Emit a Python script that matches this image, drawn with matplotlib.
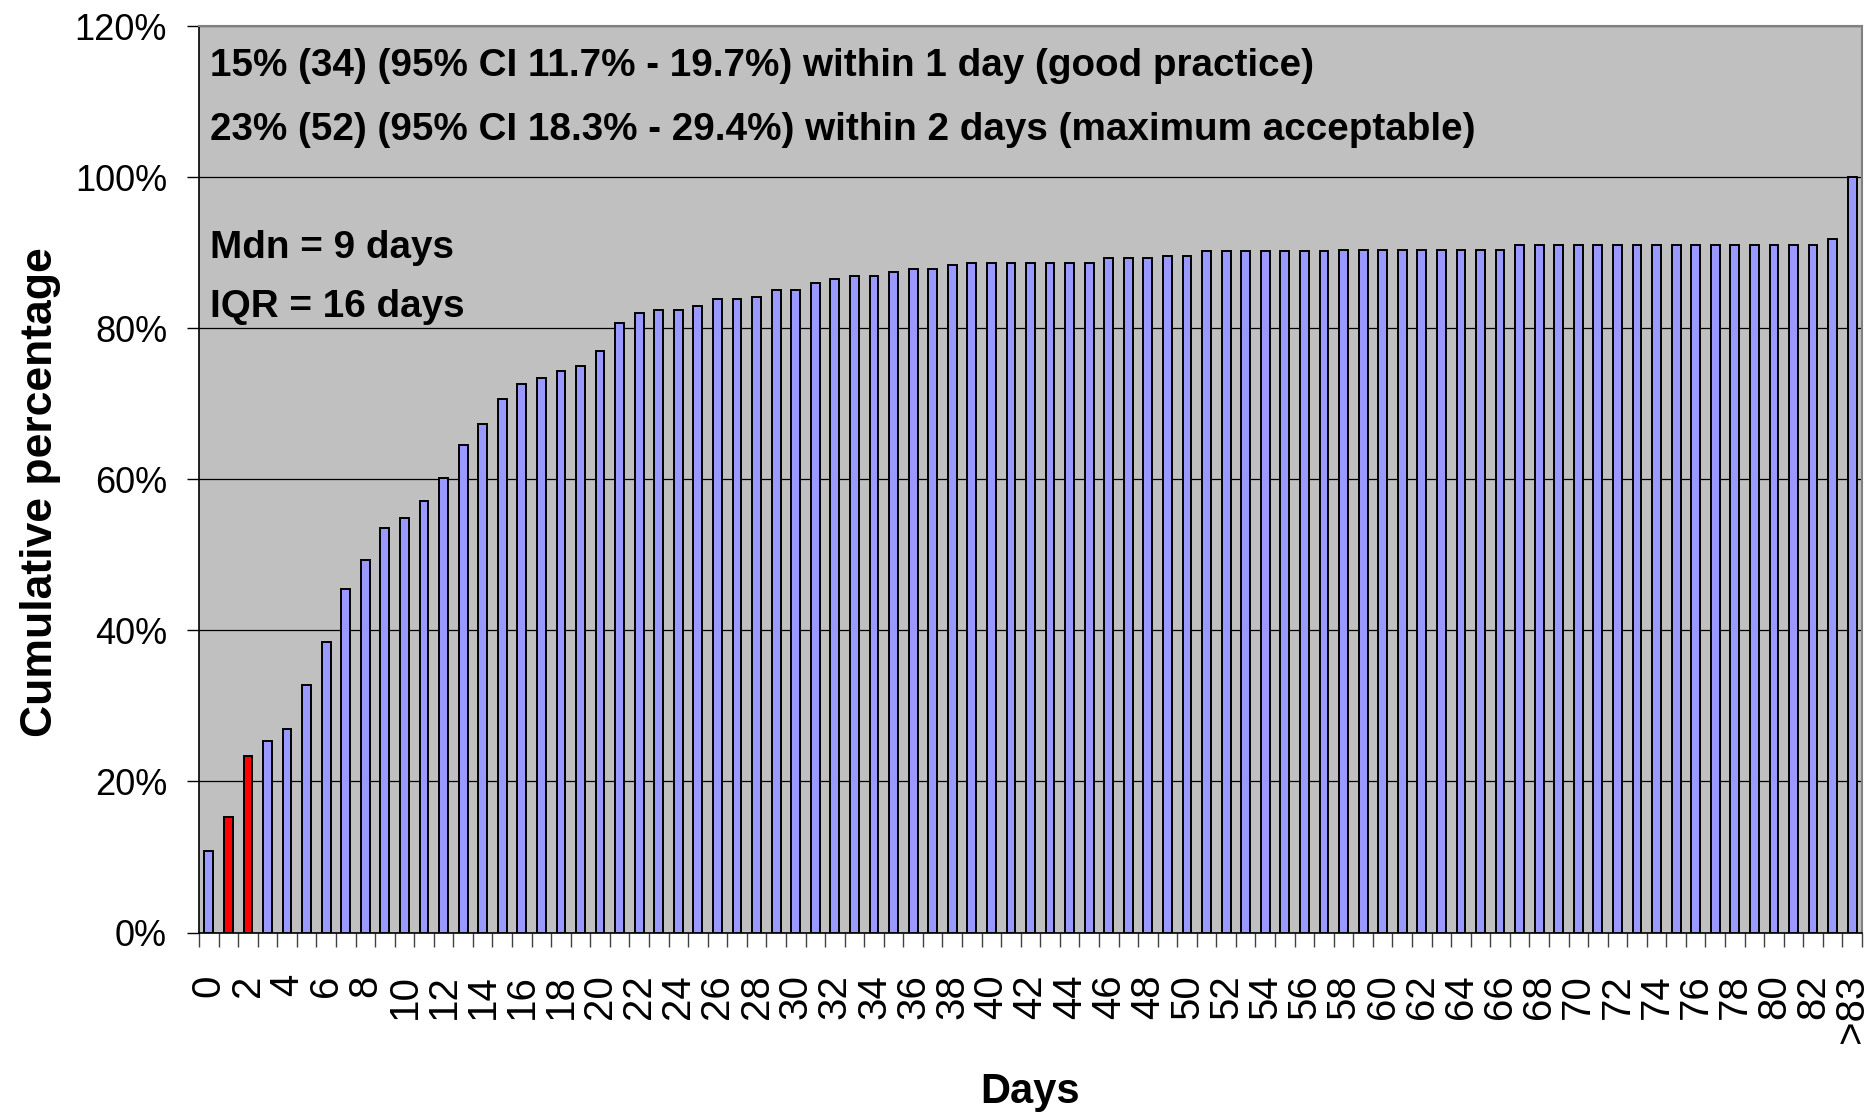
import numpy as np
import matplotlib
matplotlib.use('Agg')
import matplotlib.pyplot as plt
from matplotlib import font_manager

# cumulative percentage per day
days = [str(d) for d in range(84)] + ['>83']
cum_pct = [10.8, 15.3, 23.4, 25.3, 27.0, 32.8, 38.5, 45.5, 49.3, 53.6,
           54.9, 57.2, 60.2, 64.5, 67.4, 70.7, 72.6, 73.4, 74.4, 75.0,
           77.0, 80.7, 82.1, 82.4, 82.4, 83.0, 83.9, 83.9, 84.2, 85.1,
           85.1, 86.0, 86.6, 86.9, 86.9, 87.4, 87.8, 87.8, 88.4, 88.7,
           88.7, 88.7, 88.7, 88.7, 88.7, 88.7, 89.3, 89.3, 89.3, 89.6,
           89.6, 90.2, 90.2, 90.2, 90.2, 90.2, 90.2, 90.2, 90.4, 90.4,
           90.4, 90.4, 90.4, 90.4, 90.4, 90.4, 90.4, 91.0, 91.0, 91.0,
           91.0, 91.0, 91.0, 91.0, 91.0, 91.0, 91.0, 91.0, 91.0, 91.0,
           91.0, 91.0, 91.0, 91.9, 100.0]
highlight = ['1', '2']
notes_top = ['15% (34) (95% CI 11.7% - 19.7%) within 1 day (good practice)',
             '23% (52) (95% CI 18.3% - 29.4%) within 2 days (maximum acceptable)']
notes_mid = ['Mdn = 9 days', 'IQR = 16 days']

names = {f.name for f in font_manager.fontManager.ttflist}
narrow = 'Liberation Sans Narrow' if 'Liberation Sans Narrow' in names else 'Liberation Sans'
plain = 'Liberation Sans'
note_size = 32 if narrow == 'Liberation Sans Narrow' else 27.8

fig = plt.figure(figsize=(18.72, 11.14), dpi=100)
ax = fig.add_axes([199/1872, 1-932.5/1114, 1663/1872, 906.2/1114])
ax.set_facecolor('#C0C0C0')

x = np.arange(len(days))
cols = ['#FF0000' if d in highlight else '#9999FF' for d in days]
ax.bar(x, cum_pct, width=0.45, color=cols, edgecolor='black', linewidth=1.4, zorder=3)

ax.set_xlim(-0.5, len(days)-0.5)
ax.set_ylim(0, 120)
ax.set_yticks(np.arange(0, 121, 20))
ax.set_yticklabels(['%d%%' % v for v in np.arange(0, 121, 20)], fontsize=26, family=plain)
ax.yaxis.grid(True, color='black', linewidth=0.9, zorder=1)
ax.set_axisbelow(True)

ax.set_xticks(x[::2])
ax.set_xticklabels(days[::2], rotation=90, fontsize=29, family=plain, va='top', ha='center')
ax.set_xticks(np.arange(-0.5, len(days), 1), minor=True)
ax.tick_params(axis='x', which='major', length=0, pad=30)
ax.tick_params(axis='x', which='minor', length=10, width=1, color='#404040')
ax.tick_params(axis='y', length=9, width=1, pad=14)

for s in ['top', 'right']:
    ax.spines[s].set_color('#808080')
    ax.spines[s].set_linewidth(1.5)
for s in ['left', 'bottom']:
    ax.spines[s].set_color('black')
    ax.spines[s].set_linewidth(1.2)

ax.set_ylabel('Cumulative percentage', fontsize=32, fontweight='bold', family=plain)
ax.yaxis.set_label_coords(-0.083, 0.486)
ax.set_xlabel('Days', fontsize=30, fontweight='bold', family=narrow)
ax.xaxis.set_label_coords(0.5, -0.154)

for txt, yy in zip(notes_top + notes_mid, [114.7, 106.3, 90.6, 82.8]):
    ax.text(0.0066, yy, txt, transform=ax.get_yaxis_transform(), fontsize=note_size,
            fontweight='bold', family=narrow, va='center', ha='left')

fig.savefig('out.png', dpi=100)
